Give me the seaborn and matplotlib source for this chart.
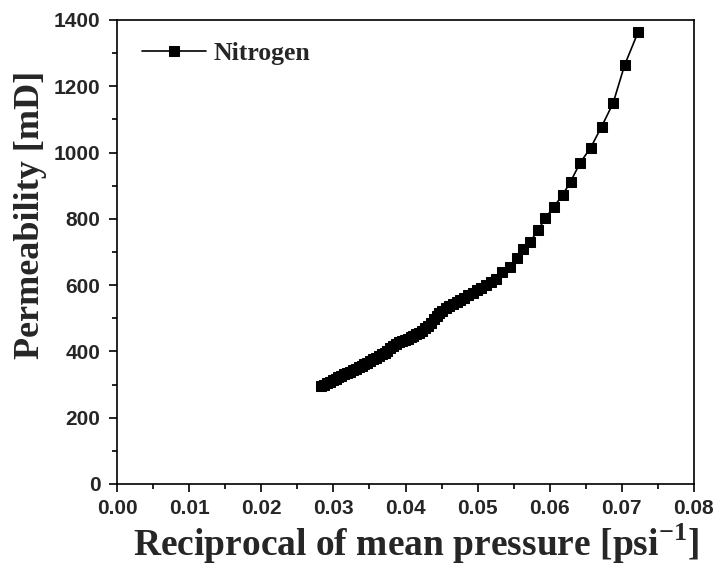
import pandas as pd
import matplotlib.pyplot as plt
import seaborn as sns
from matplotlib.ticker import MultipleLocator, FormatStrFormatter

# reciprocal of mean pressure [1/psi] and permeability [mD]
recip_pressure = [
    0.0283, 0.0287, 0.0291, 0.0295, 0.0299, 0.0303, 0.0307, 0.0311, 0.0315, 0.0319,
    0.0323, 0.0327, 0.0331, 0.0335, 0.0339, 0.0343, 0.0347, 0.0351, 0.0355, 0.0359,
    0.0363, 0.0367, 0.0371, 0.0375, 0.0379, 0.0383, 0.0387, 0.0391, 0.0395, 0.0399,
    0.0403, 0.0407, 0.0411, 0.0415, 0.0419, 0.0423, 0.0427, 0.0431, 0.0435, 0.0439,
    0.0443, 0.0447, 0.0451, 0.0456, 0.0461, 0.0466, 0.0471, 0.0476, 0.0481, 0.0487,
    0.0493, 0.0499, 0.0505, 0.0512, 0.0519, 0.0525, 0.0534, 0.0545, 0.0554, 0.0563,
    0.0573, 0.0584, 0.0594, 0.0606, 0.0618, 0.0629, 0.0642, 0.0657, 0.0672, 0.0688,
    0.0704, 0.0723,
]
permeability = [
    296, 300, 305, 309, 313, 318, 322, 326, 331, 335,
    339, 344, 348, 352, 357, 361, 366, 371, 376, 381,
    386, 391, 396, 402, 409, 417, 423, 428, 432, 435,
    438, 442, 446, 451, 456, 462, 469, 477, 487, 497,
    508, 516, 523, 530, 537, 544, 550, 556, 562, 569,
    576, 584, 592, 601, 610, 619, 640, 656, 681, 708,
    731, 766, 802, 837, 872, 912, 968, 1015, 1078, 1149,
    1264, 1365,
]

df = pd.DataFrame({'x': recip_pressure, 'k': permeability})

sns.set_style('ticks')
plt.rcParams['font.family'] = ['Liberation Sans', 'DejaVu Sans']
plt.rcParams['mathtext.fontset'] = 'custom'
plt.rcParams['mathtext.rm'] = 'Liberation Serif:bold'
plt.rcParams['mathtext.bf'] = 'Liberation Serif:bold'

fig = plt.figure(figsize=(7.19, 5.70), dpi=100)
ax = fig.add_axes([0.163, 0.151, 0.802, 0.814])

sns.lineplot(data=df, x='x', y='k', ax=ax, color='black', linewidth=1.2,
             marker='s', markersize=7.5, markeredgecolor='black',
             label='Nitrogen', sort=False)

ax.set_xlim(0, 0.08)
ax.set_ylim(0, 1400)
ax.xaxis.set_major_locator(MultipleLocator(0.01))
ax.xaxis.set_minor_locator(MultipleLocator(0.005))
ax.xaxis.set_major_formatter(FormatStrFormatter('%.2f'))
ax.yaxis.set_major_locator(MultipleLocator(200))
ax.yaxis.set_minor_locator(MultipleLocator(100))

ax.tick_params(which='major', direction='out', length=6, width=1.2,
               labelsize=15, color='black')
ax.tick_params(which='minor', direction='out', length=3.8, width=1.2, color='black')
ax.tick_params(axis='x', which='major', pad=5)
ax.tick_params(axis='y', which='major', pad=6)
for lab in ax.get_xticklabels() + ax.get_yticklabels():
    lab.set_fontweight('bold')

for sp in ax.spines.values():
    sp.set_visible(True)
    sp.set_linewidth(1.2)
    sp.set_color('black')

serif = ['Liberation Serif', 'DejaVu Serif']
ax.set_xlabel('Reciprocal of mean pressure [psi$^{\\mathregular{-1}}$]',
              fontsize=27, fontweight='bold', family=serif, labelpad=4)
ax.xaxis.set_label_coords(0.518, -0.082)
ax.set_ylabel('Permeability [mD]', fontsize=26, fontweight='bold', family=serif)
ax.yaxis.set_label_coords(-0.122, 0.579)

ax.legend(loc='upper left', bbox_to_anchor=(0.043, 0.952), frameon=False,
          handlelength=2.5, handletextpad=0.3, borderpad=0, borderaxespad=0,
          prop={'family': serif, 'weight': 'bold', 'size': 18.5})

plt.savefig('out.png', dpi=100)
